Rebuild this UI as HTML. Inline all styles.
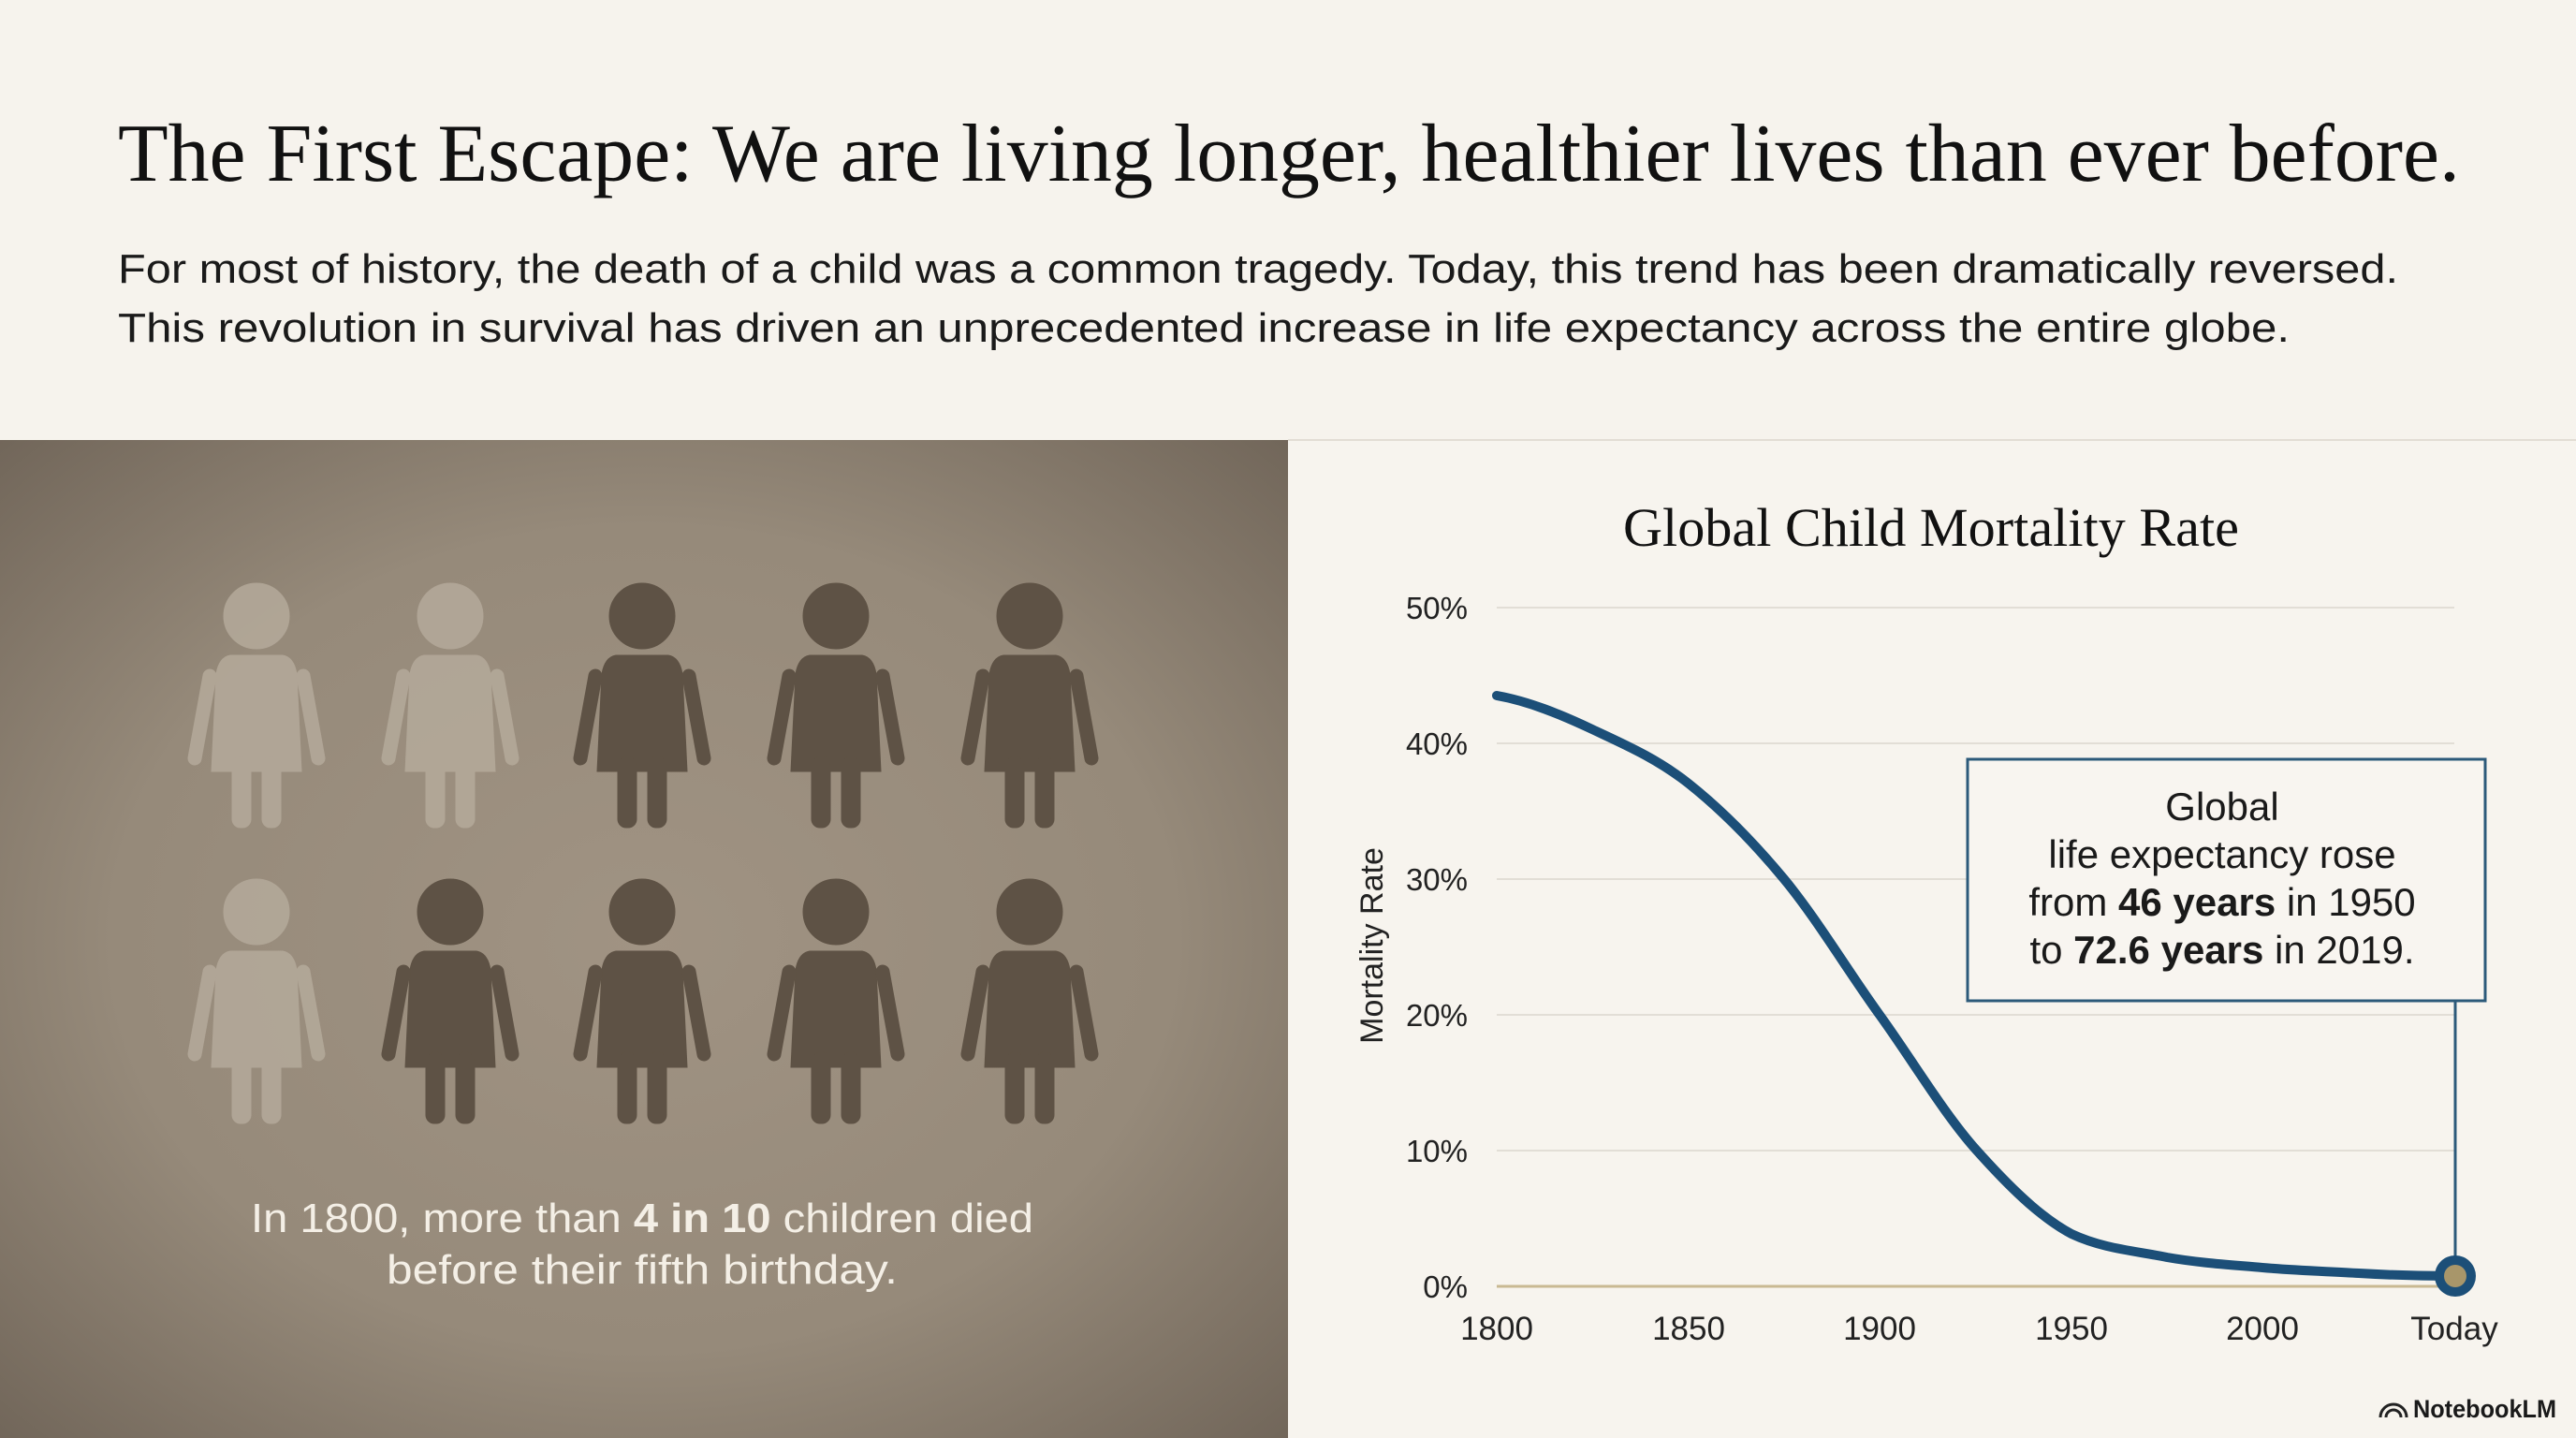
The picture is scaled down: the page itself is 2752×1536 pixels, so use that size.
<!DOCTYPE html>
<html><head><meta charset="utf-8"><style>
html,body{margin:0;padding:0;background:#f6f3ed;}
svg{display:block;}
</style></head><body>
<svg width="2752" height="1536" viewBox="0 0 2752 1536" xmlns="http://www.w3.org/2000/svg">
<defs>
<radialGradient id="lg" cx="0.5" cy="0.5" r="0.75">
<stop offset="0" stop-color="#a09383"/>
<stop offset="0.55" stop-color="#968a7a"/>
<stop offset="1" stop-color="#6c6155"/>
</radialGradient>
<g id="kid">
<circle cx="0" cy="0" r="35"/>
<path d="M-28,42 L28,42 Q40,44 43,62 L48,166 L-48,166 L-43,62 Q-40,44 -28,42 Z"/>
<line x1="50" y1="64" x2="66" y2="152" stroke-width="15" stroke-linecap="round"/>
<line x1="-50" y1="64" x2="-66" y2="152" stroke-width="15" stroke-linecap="round"/>
<rect x="-26" y="150" width="20" height="76" rx="9"/>
<rect x="6" y="150" width="20" height="76" rx="9"/>
</g>
</defs>
<rect x="0" y="0" width="2752" height="1536" fill="#f6f3ed"/>
<rect x="1376" y="470" width="1376" height="1066" fill="#f7f4ee"/>
<line x1="1376" y1="470" x2="2752" y2="470" stroke="#e2ddd4" stroke-width="2"/>
<text x="126" y="193" font-family="Liberation Serif, serif" font-size="88" fill="#111" textLength="2502" lengthAdjust="spacingAndGlyphs">The First Escape: We are living longer, healthier lives than ever before.</text>
<text x="126" y="302" font-family="Liberation Sans, sans-serif" font-size="44" fill="#1a1a1a" textLength="2436" lengthAdjust="spacingAndGlyphs">For most of history, the death of a child was a common tragedy. Today, this trend has been dramatically reversed.</text>
<text x="126" y="365" font-family="Liberation Sans, sans-serif" font-size="44" fill="#1a1a1a" textLength="2320" lengthAdjust="spacingAndGlyphs">This revolution in survival has driven an unprecedented increase in life expectancy across the entire globe.</text>

<rect x="0" y="470" width="1376" height="1066" fill="url(#lg)"/>
<g fill="#b5aa9b" stroke="#b5aa9b" opacity="0.85">
<use href="#kid" x="274" y="658"/>
<use href="#kid" x="481" y="658"/>
<use href="#kid" x="274" y="974"/>
</g>
<g fill="#5e5245" stroke="#5e5245">
<use href="#kid" x="686" y="658"/>
<use href="#kid" x="893" y="658"/>
<use href="#kid" x="1100" y="658"/>
<use href="#kid" x="481" y="974"/>
<use href="#kid" x="686" y="974"/>
<use href="#kid" x="893" y="974"/>
<use href="#kid" x="1100" y="974"/>
</g>
<text x="686" y="1316" text-anchor="middle" font-family="Liberation Sans, sans-serif" font-size="44" fill="#f4efe6" textLength="836" lengthAdjust="spacingAndGlyphs">In 1800, more than <tspan font-weight="bold">4 in 10</tspan> children died</text>
<text x="686" y="1371" text-anchor="middle" font-family="Liberation Sans, sans-serif" font-size="44" fill="#f4efe6" textLength="546" lengthAdjust="spacingAndGlyphs">before their fifth birthday.</text>

<text x="2063" y="583" text-anchor="middle" font-family="Liberation Serif, serif" font-size="58" fill="#111" textLength="658" lengthAdjust="spacingAndGlyphs">Global Child Mortality Rate</text>
<g stroke="#e2ded6" stroke-width="2">
<line x1="1599" y1="649" x2="2622" y2="649"/>
<line x1="1599" y1="794" x2="2622" y2="794"/>
<line x1="1599" y1="939" x2="2622" y2="939"/>
<line x1="1599" y1="1084" x2="2622" y2="1084"/>
<line x1="1599" y1="1229" x2="2622" y2="1229"/>
</g>
<line x1="1599" y1="1374" x2="2622" y2="1374" stroke="#c9b992" stroke-width="3"/>
<g font-family="Liberation Sans, sans-serif" font-size="33" fill="#222" text-anchor="end">
<text x="1568" y="661">50%</text>
<text x="1568" y="806">40%</text>
<text x="1568" y="951">30%</text>
<text x="1568" y="1096">20%</text>
<text x="1568" y="1241">10%</text>
<text x="1568" y="1386">0%</text>
</g>
<g font-family="Liberation Sans, sans-serif" font-size="35" fill="#222" text-anchor="middle">
<text x="1599" y="1431">1800</text>
<text x="1804" y="1431">1850</text>
<text x="2008" y="1431">1900</text>
<text x="2213" y="1431">1950</text>
<text x="2417" y="1431">2000</text>
<text x="2622" y="1431">Today</text>
</g>
<text transform="translate(1477,1010) rotate(-90)" text-anchor="middle" font-family="Liberation Sans, sans-serif" font-size="34" fill="#222">Mortality Rate</text>

<path d="M1599,743 C1633,749 1667,763 1701,779 C1735,795 1770,810 1804,837 C1838,864 1872,898 1906,939 C1940,980 1974,1037 2008,1084 C2042,1131 2077,1190 2111,1228 C2145,1266 2179,1300 2213,1318 C2247,1334 2281,1336 2315,1343 C2349,1349 2383,1351 2417,1354 C2451,1357 2486,1358 2520,1360 C2554,1362 2588,1363 2622,1363" fill="none" stroke="#1c4f78" stroke-width="10" stroke-linecap="round"/>

<line x1="2623" y1="1069" x2="2623" y2="1345" stroke="#2c5a7a" stroke-width="3"/>
<rect x="2102" y="811" width="553" height="258" fill="#f8f5f0" stroke="#2c5a7a" stroke-width="3"/>
<g font-family="Liberation Sans, sans-serif" font-size="42" fill="#1a1a1a" text-anchor="middle">
<text x="2374" y="876">Global</text>
<text x="2374" y="927">life expectancy rose</text>
<text x="2374" y="978">from <tspan font-weight="bold">46 years</tspan> in 1950</text>
<text x="2374" y="1029">to <tspan font-weight="bold">72.6 years</tspan> in 2019.</text>
</g>
<circle cx="2623" cy="1363" r="22" fill="#1c4f78"/>
<circle cx="2623" cy="1363" r="12" fill="#a8966a"/>

<g fill="none" stroke="#222" stroke-width="3">
<path d="M2543,1514 A14,14 0 0 1 2571,1514"/>
<path d="M2549,1514 A8,8 0 0 1 2565,1514"/>
</g>
<text x="2578" y="1514" font-family="Liberation Sans, sans-serif" font-size="27" fill="#1a1a1a" font-weight="bold" textLength="153" lengthAdjust="spacingAndGlyphs">NotebookLM</text>
</svg>
</body></html>
